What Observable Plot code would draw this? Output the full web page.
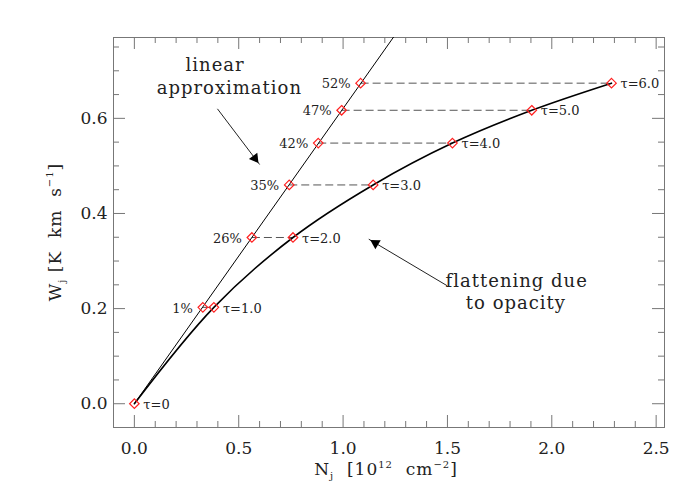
<!DOCTYPE html>
<html><head><meta charset="utf-8">
<script src="https://cdn.jsdelivr.net/npm/d3@7"></script>
<script src="https://cdn.jsdelivr.net/npm/@observablehq/plot@0.6"></script>
<style>
body{margin:0;background:#fff}
svg{display:block}
.annot text{letter-spacing:1px}
</style>
</head><body><div id="chart"></div>
<script>
// Curve of growth points (tau markers)
const tauLabels = ["τ=0","τ=1.0","τ=2.0","τ=3.0","τ=4.0","τ=5.0","τ=6.0"];
const curveN = [0, 0.381, 0.760, 1.144, 1.524, 1.904, 2.286];
const curveW = [0, 0.2026, 0.3495, 0.460, 0.548, 0.617, 0.674];
// Linear approximation points (same W as tau=1..6)
const pctLabels = ["1%","26%","35%","42%","47%","52%"];
const linearN = [0.328, 0.563, 0.742, 0.881, 0.993, 1.084];
// Linear approximation line (clipped at top of frame)
const linLineN = [0, 1.30];
const linLineW = [0, 0.807];
// Annotations
const noteText = ["linear","approximation","flattening due","to opacity"];
const noteN = [0.387, 0.455, 1.832, 1.828];
const noteW = [0.712, 0.663, 0.258, 0.211];
const arrowN1 = [0.398, 1.499], arrowW1 = [0.620, 0.248];
const arrowN2 = [0.600, 1.123], arrowW2 = [0.503, 0.346];
// Ticks
const xMajor = [0, 0.5, 1.0, 1.5, 2.0, 2.5];
const xMinor = [0.1,0.2,0.3,0.4,0.6,0.7,0.8,0.9,1.1,1.2,1.3,1.4,1.6,1.7,1.8,1.9,2.1,2.2,2.3,2.4];
const yMajor = [0, 0.2, 0.4, 0.6];
const yMinor = [0.05,0.1,0.15,0.25,0.3,0.35,0.45,0.5,0.55,0.65,0.7,0.75];

const W = 700, H = 500, mL = 113, mR = 36, mT = 37, mB = 73;
const fw = W - mL - mR, fh = H - mT - mB;
const axisColor = "#777";

const curve = curveN.map((n, i) => ({n, w: curveW[i], label: tauLabels[i]}));
const lin = linearN.map((n, i) => ({n, w: curveW[i + 1], nc: curveN[i + 1], label: pctLabels[i]}));
const linLine = linLineN.map((n, i) => ({n, w: linLineW[i]}));
const notes = noteText.map((t, i) => ({t, n: noteN[i], w: noteW[i]}));
const arrows = arrowN1.map((n, i) => ({x1: n, y1: arrowW1[i], x2: arrowN2[i], y2: arrowW2[i]}));

const plot = Plot.plot({
  width: W, height: H,
  marginLeft: mL, marginRight: mR, marginTop: mT, marginBottom: mB,
  style: {fontFamily: "DejaVu Serif", fontSize: "17px", color: "#222", background: "#fff"},
  x: {domain: [-0.1, 2.54], ticks: xMajor, tickFormat: d => d.toFixed(1), tickSize: 0, tickPadding: 14, label: null},
  y: {domain: [-0.05, 0.77], ticks: yMajor, tickFormat: d => d.toFixed(1), tickSize: 0, tickPadding: 6, label: null},
  marks: [
    Plot.frame({stroke: axisColor}),
    // inward ticks on all four sides
    Plot.tickX(xMajor, {x: d => d, stroke: axisColor, insetTop: fh - 12}),
    Plot.tickX(xMajor, {x: d => d, stroke: axisColor, insetBottom: fh - 12}),
    Plot.tickX(xMinor, {x: d => d, stroke: axisColor, insetTop: fh - 6}),
    Plot.tickX(xMinor, {x: d => d, stroke: axisColor, insetBottom: fh - 6}),
    Plot.tickY(yMajor, {y: d => d, stroke: axisColor, insetRight: fw - 12}),
    Plot.tickY(yMajor, {y: d => d, stroke: axisColor, insetLeft: fw - 12}),
    Plot.tickY(yMinor, {y: d => d, stroke: axisColor, insetRight: fw - 6}),
    Plot.tickY(yMinor, {y: d => d, stroke: axisColor, insetLeft: fw - 6}),
    // dashed connectors
    Plot.link(lin, {x1: "n", x2: "nc", y1: "w", y2: "w", stroke: "#555", strokeDasharray: "8,4", strokeWidth: 1}),
    // linear approximation
    Plot.line(linLine, {x: "n", y: "w", stroke: "#000", strokeWidth: 1, clip: true}),
    // curve of growth
    Plot.line(curve, {x: "n", y: "w", stroke: "#000", strokeWidth: 1.6, curve: "catmull-rom"}),
    // markers
    Plot.dot(curve, {x: "n", y: "w", symbol: "diamond2", r: 4.3, stroke: "#ff2020", fill: "none", strokeWidth: 1.2}),
    Plot.dot(lin, {x: "n", y: "w", symbol: "diamond2", r: 4.3, stroke: "#ff2020", fill: "none", strokeWidth: 1.2}),
    Plot.text(curve, {x: "n", y: "w", text: "label", textAnchor: "start", dx: 9, dy: 1, fontSize: 13, fill: "#222"}),
    Plot.text(lin, {x: "n", y: "w", text: "label", textAnchor: "end", dx: -10, dy: 1, fontSize: 13, fill: "#222"}),
    // annotations
    Plot.text(notes, {x: "n", y: "w", text: "t", textAnchor: "middle", fontSize: 18, fill: "#222", className: "annot"}),
    Plot.link(arrows, {x1: "x1", y1: "y1", x2: "x2", y2: "y2", stroke: "#222", strokeWidth: 1}),
    Plot.dot(arrows.slice(0, 1), {x: "x2", y: "y2", symbol: "triangle2", r: 5, fill: "#000", rotate: 143, dx: -4.7, dy: -6.2}),
    Plot.dot(arrows.slice(1, 2), {x: "x2", y: "y2", symbol: "triangle2", r: 5, fill: "#000", rotate: 301, dx: 6.7, dy: 4.0})
  ]
});

document.getElementById("chart").appendChild(plot);

// Axis titles with subscripts / superscripts
const svg = d3.select(plot);
const xl = svg.append("text")
  .attr("x", 386).attr("y", 475)
  .attr("text-anchor", "middle")
  .attr("letter-spacing", 1)
  .attr("font-family", "DejaVu Serif").attr("font-size", 17).attr("fill", "#222");
xl.append("tspan").text("N");
xl.append("tspan").attr("dy", 4).attr("font-size", 10).text("j");
xl.append("tspan").attr("dy", -4).text("  [10");
xl.append("tspan").attr("dy", -7).attr("font-size", 10).text("12");
xl.append("tspan").attr("dy", 7).text("  cm");
xl.append("tspan").attr("dy", -7).attr("font-size", 10).text("−2");
xl.append("tspan").attr("dy", 7).text("]");

const yl = svg.append("text")
  .attr("transform", "translate(61,232) rotate(-90)")
  .attr("text-anchor", "middle")
  .attr("letter-spacing", 1)
  .attr("font-family", "DejaVu Serif").attr("font-size", 17).attr("fill", "#222");
yl.append("tspan").text("W");
yl.append("tspan").attr("dy", 4).attr("font-size", 10).text("j");
yl.append("tspan").attr("dy", -4).text(" [K  km  s");
yl.append("tspan").attr("dy", -8).attr("font-size", 10).text("−1");
yl.append("tspan").attr("dy", 8).text("]");
</script>
</body></html>
